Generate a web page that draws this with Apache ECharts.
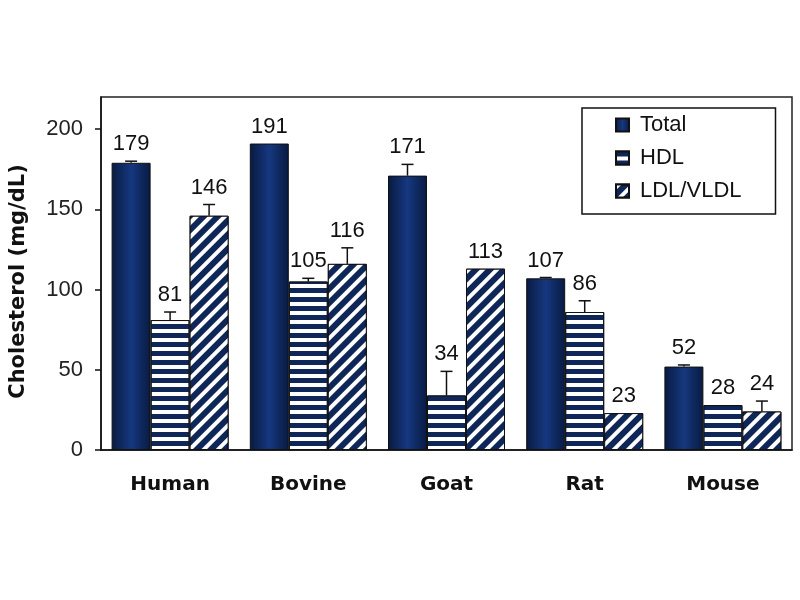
<!DOCTYPE html>
<html>
  <head>
    <meta charset="UTF-8" />
    <script src="https://cdn.jsdelivr.net/npm/echarts@6/dist/echarts.min.js"></script>
    <title>cholesterol</title>
    <style>
      html, body { margin: 0; padding: 0; background: #fff; }
      #main { width: 800px; height: 600px; }
    </style>
  </head>
  <body>
    <div id="main"></div>
    <script>
      // values
      const species = ['Human', 'Bovine', 'Goat', 'Rat', 'Mouse'];
      const totalVals = [179, 191, 171, 107, 52];
      const hdlVals = [81, 105, 34, 86, 28];
      const ldlVals = [146, 116, 113, 23, 24];
      // upper error bars (mg/dL)
      const totalErr = [1, 0, 7, 0.5, 1];
      const hdlErr = [5, 2, 15, 7, 0];
      const ldlErr = [7, 10, 0, 0, 6.5];
      const yTicks = { min: 0, max: 220, interval: 50 };

      const NAVY = '#0f2658';
      const BAR_W = 39;
      const FONT = '"Liberation Sans", Arial, sans-serif';
      const BOLD_FONT = '"DejaVu Sans", sans-serif';

      // error bar + value label on top of bar number k (0,1,2 within group)
      function errSeries(name, vals, errs, k) {
        return {
          name: name + '_err',
          type: 'custom',
          z: 10,
          silent: true,
          data: vals.map((v, i) => [i, v, errs[i]]),
          renderItem(params, api) {
            const i = api.value(0), v = api.value(1), e = api.value(2);
            const c = api.coord([i, v]);
            const x = c[0] + (k - 1) * BAR_W;
            const yTop = api.coord([i, v + e])[1];
            const kids = [];
            if (e > 0) {
              const st = { stroke: '#111', lineWidth: 1.5 };
              kids.push({ type: 'line', shape: { x1: x, y1: c[1], x2: x, y2: yTop }, style: st });
              kids.push({ type: 'line', shape: { x1: x - 6, y1: yTop, x2: x + 6, y2: yTop }, style: st });
            }
            kids.push({
              type: 'text',
              x: x, y: yTop - 6,
              style: {
                text: String(v), fill: '#111', font: '22px ' + FONT,
                align: 'center', verticalAlign: 'bottom'
              }
            });
            return { type: 'group', children: kids };
          }
        };
      }

      const chart = echarts.init(document.getElementById('main'), null, { renderer: 'canvas' });
      const option = {
        backgroundColor: '#fff',
        animation: false,
        grid: {
          left: 100, right: 8, top: 97, bottom: 150,
          show: true, borderColor: '#222', borderWidth: 1.5
        },
        legend: {
          data: ['Total', 'HDL', 'LDL/VLDL'],
          orient: 'vertical',
          left: 582, top: 108,
          padding: [6, 34, 12, 33],
          itemGap: 11,
          icon: 'rect',
          itemWidth: 13, itemHeight: 13,
          borderColor: '#111', borderWidth: 1.5,
          backgroundColor: '#fff',
          textStyle: { fontFamily: FONT, fontSize: 22, color: '#111', padding: [0, 0, 0, 6] }
        },
        xAxis: {
          type: 'category',
          data: species,
          axisLine: { lineStyle: { color: '#111', width: 1.5 } },
          axisTick: { length: 6, lineStyle: { color: '#111', width: 1.5 } },
          axisLabel: { margin: 25, fontFamily: BOLD_FONT, fontWeight: 'bold', fontSize: 20, color: '#111' }
        },
        yAxis: {
          type: 'value',
          min: yTicks.min, max: yTicks.max, interval: yTicks.interval,
          name: 'Cholesterol (mg/dL)',
          nameLocation: 'middle',
          nameGap: 72,
          nameTextStyle: { fontFamily: BOLD_FONT, fontWeight: 'bold', fontSize: 21, color: '#111', padding: [0, 16, 0, 0] },
          axisLine: { show: true, lineStyle: { color: '#111', width: 1.5 } },
          axisTick: { show: true, length: 6, lineStyle: { color: '#111', width: 1.5 } },
          axisLabel: { showMaxLabel: false, margin: 18, fontFamily: FONT, fontSize: 22, color: '#222' },
          splitLine: { show: false }
        },
        series: [
          {
            name: 'Total', type: 'bar', barWidth: BAR_W, barGap: '0%',
            data: totalVals,
            itemStyle: {
              color: new echarts.graphic.LinearGradient(0, 0, 1, 0, [
                { offset: 0, color: '#081a40' },
                { offset: 0.5, color: '#163880' },
                { offset: 1, color: '#081a40' }
              ]),
              borderColor: '#111', borderWidth: 1
            }
          },
          {
            name: 'HDL', type: 'bar', barWidth: BAR_W, barGap: '0%',
            data: hdlVals,
            itemStyle: {
              color: '#ffffff', borderColor: '#111', borderWidth: 1,
              decal: { symbol: 'rect', symbolSize: 1, dashArrayX: [1, 0], dashArrayY: [5, 4], rotation: 0, color: NAVY }
            }
          },
          {
            name: 'LDL/VLDL', type: 'bar', barWidth: BAR_W, barGap: '0%',
            data: ldlVals,
            itemStyle: {
              color: NAVY, borderColor: '#111', borderWidth: 1,
              decal: { symbol: 'rect', symbolSize: 1, dashArrayX: [1, 0], dashArrayY: [4, 6], rotation: -Math.PI / 4, color: '#ffffff' }
            }
          },
          errSeries('Total', totalVals, totalErr, 0),
          errSeries('HDL', hdlVals, hdlErr, 1),
          errSeries('LDL/VLDL', ldlVals, ldlErr, 2)
        ]
      };
      chart.setOption(option);
    </script>
  </body>
</html>
